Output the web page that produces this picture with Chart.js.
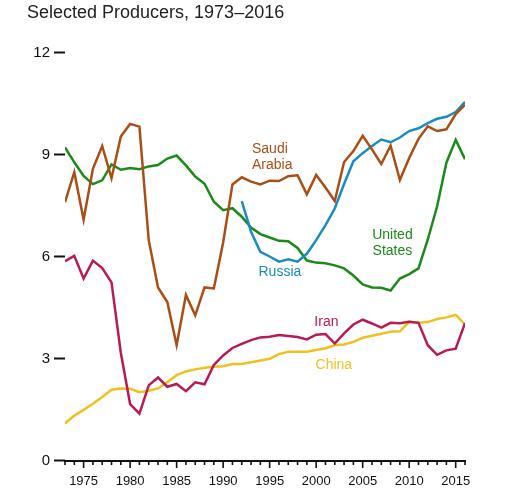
<!DOCTYPE html>
<html>
<head>
<meta charset="utf-8">
<script src="https://cdn.jsdelivr.net/npm/chart.js@4.4.1/dist/chart.umd.min.js"></script>
<style>
  html, body { margin: 0; padding: 0; background: #fff; }
  #wrap { width: 506px; height: 489px; position: relative; }
</style>
</head>
<body>
<div id="wrap"><canvas id="oilChart"></canvas></div>
<script>
// years on the x axis
const years = [1973, 1974, 1975, 1976, 1977, 1978, 1979, 1980, 1981, 1982,
  1983, 1984, 1985, 1986, 1987, 1988, 1989, 1990, 1991, 1992,
  1993, 1994, 1995, 1996, 1997, 1998, 1999, 2000, 2001, 2002,
  2003, 2004, 2005, 2006, 2007, 2008, 2009, 2010, 2011, 2012,
  2013, 2014, 2015, 2016];

const saudiArabia = [7.60, 8.48, 7.08, 8.58, 9.25, 8.30, 9.53, 9.90, 9.82, 6.48,
  5.09, 4.66, 3.39, 4.87, 4.27, 5.09, 5.06, 6.41, 8.12, 8.33,
  8.20, 8.12, 8.23, 8.22, 8.36, 8.39, 7.83, 8.40, 8.03, 7.63,
  8.78, 9.10, 9.55, 9.15, 8.72, 9.26, 8.25, 8.90, 9.46, 9.83,
  9.69, 9.74, 10.19, 10.46];

const russia = [null, null, null, null, null, null, null, null, null, null,
  null, null, null, null, null, null, null, null, null, 7.63,
  6.73, 6.14, 6.00, 5.85, 5.92, 5.85, 6.08, 6.48, 6.92, 7.41,
  8.13, 8.80, 9.04, 9.25, 9.44, 9.36, 9.50, 9.69, 9.77, 9.92,
  10.05, 10.11, 10.25, 10.55];

const unitedStates = [9.21, 8.77, 8.37, 8.13, 8.24, 8.71, 8.55, 8.60, 8.57, 8.65,
  8.69, 8.88, 8.97, 8.68, 8.35, 8.14, 7.61, 7.36, 7.42, 7.17,
  6.85, 6.66, 6.56, 6.46, 6.45, 6.25, 5.88, 5.82, 5.80, 5.74,
  5.65, 5.44, 5.18, 5.09, 5.08, 5.00, 5.35, 5.48, 5.65, 6.50,
  7.47, 8.76, 9.43, 8.86];

const iran = [5.86, 6.02, 5.35, 5.88, 5.66, 5.24, 3.17, 1.66, 1.38, 2.21,
  2.44, 2.17, 2.25, 2.04, 2.30, 2.24, 2.81, 3.09, 3.31, 3.43,
  3.54, 3.62, 3.64, 3.69, 3.66, 3.63, 3.56, 3.70, 3.72, 3.44,
  3.74, 4.00, 4.14, 4.03, 3.91, 4.05, 4.04, 4.08, 4.05, 3.39,
  3.11, 3.24, 3.29, 4.04];

const china = [1.09, 1.32, 1.49, 1.67, 1.87, 2.08, 2.12, 2.11, 2.01, 2.05,
  2.12, 2.30, 2.51, 2.62, 2.68, 2.73, 2.76, 2.77, 2.84, 2.84,
  2.89, 2.94, 2.99, 3.13, 3.20, 3.20, 3.20, 3.25, 3.30, 3.39,
  3.41, 3.49, 3.61, 3.67, 3.73, 3.79, 3.80, 4.08, 4.05, 4.07,
  4.16, 4.21, 4.28, 4.00];

// tick labels
const yearTicks = [1975, 1980, 1985, 1990, 1995, 2000, 2005, 2010, 2015];
const valueTicks = [0, 3, 6, 9, 12];

const titleText = 'Selected Producers, 1973\u20132016';

// series names written next to the lines
const seriesLabels = [
  { lines: ['Saudi', 'Arabia'], x: 1993.1, y: 9.17, align: 'left', color: '#a94e14' },
  { lines: ['Russia'], x: 1996.1, y: 5.53, align: 'center', color: '#1a8cc0' },
  { lines: ['United', 'States'], x: 2008.2, y: 6.64, align: 'center', color: '#1a8a1a' },
  { lines: ['Iran'], x: 2001.1, y: 4.07, align: 'center', color: '#b81a55' },
  { lines: ['China'], x: 2001.9, y: 2.80, align: 'center', color: '#f0c020' }
];

const FONT = '"Liberation Sans", Arial, sans-serif';

function toPoints(values) {
  return years.map((yr, i) => ({ x: yr, y: values[i] }));
}

// title, year ticks and line names
const extrasPlugin = {
  id: 'extras',
  afterDraw(chart) {
    const ctx = chart.ctx;
    const xs = chart.scales.x;
    const ys = chart.scales.y;
    ctx.save();

    ctx.fillStyle = '#222';
    ctx.font = '18px ' + FONT;
    ctx.textAlign = 'left';
    ctx.textBaseline = 'middle';
    ctx.fillText(titleText, 27, 13);

    // one small tick per year, longer ones at the labels
    ctx.strokeStyle = '#111';
    ctx.lineWidth = 1.6;
    const base = ys.getPixelForValue(0);
    years.forEach(yr => {
      const px = xs.getPixelForValue(yr);
      const len = yearTicks.includes(yr) ? 7.5 : 4.5;
      ctx.beginPath();
      ctx.moveTo(px, base);
      ctx.lineTo(px, base + len);
      ctx.stroke();
    });

    ctx.font = '14px ' + FONT;
    ctx.textBaseline = 'middle';
    seriesLabels.forEach(lb => {
      ctx.fillStyle = lb.color;
      ctx.textAlign = lb.align;
      const px = xs.getPixelForValue(lb.x);
      const py = ys.getPixelForValue(lb.y);
      lb.lines.forEach((t, i) => ctx.fillText(t, px, py + i * 16));
    });
    ctx.restore();
  }
};

const ctx = document.getElementById('oilChart').getContext('2d');
const oilChart = new Chart(ctx, {
  type: 'line',
  data: {
    datasets: [
      { label: 'Saudi Arabia', data: toPoints(saudiArabia), borderColor: '#a94e14' },
      { label: 'Russia', data: toPoints(russia), borderColor: '#1a8cc0' },
      { label: 'United States', data: toPoints(unitedStates), borderColor: '#1a8a1a' },
      { label: 'Iran', data: toPoints(iran), borderColor: '#b81a55' },
      { label: 'China', data: toPoints(china), borderColor: '#f0c020' }
    ]
  },
  options: {
    responsive: true,
    maintainAspectRatio: false,
    animation: false,
    layout: { padding: { top: 52.5, right: 41, left: 0, bottom: 0 } },
    elements: {
      line: { borderWidth: 2.5, tension: 0, fill: false },
      point: { radius: 0, hoverRadius: 0 }
    },
    plugins: {
      legend: { display: false },
      title: { display: false },
      tooltip: { enabled: false }
    },
    scales: {
      x: {
        type: 'linear',
        min: 1973,
        max: 2016,
        afterFit(scale) { scale.height = 28.5; },
        afterBuildTicks(scale) { scale.ticks = yearTicks.map(v => ({ value: v })); },
        grid: { display: true, drawOnChartArea: false, drawTicks: false },
        border: { display: true, color: '#111', width: 2 },
        ticks: {
          color: '#111',
          font: { family: FONT, size: 13 },
          padding: 13,
          maxRotation: 0,
          callback: v => String(v)
        }
      },
      y: {
        min: 0,
        max: 12,
        afterFit(scale) { scale.width = 65; },
        afterBuildTicks(scale) { scale.ticks = valueTicks.map(v => ({ value: v })); },
        grid: { drawOnChartArea: false, tickLength: 11, tickColor: '#111', tickWidth: 2 },
        border: { display: false },
        ticks: {
          color: '#111',
          font: { family: FONT, size: 15 },
          padding: 4
        }
      }
    }
  },
  plugins: [extrasPlugin]
});
</script>
</body>
</html>
